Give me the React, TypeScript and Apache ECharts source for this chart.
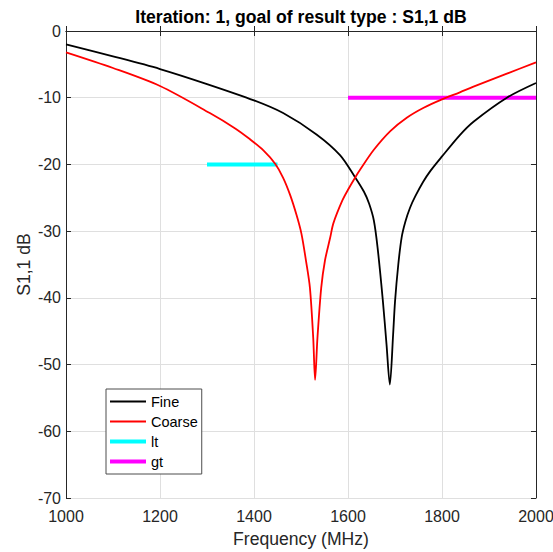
import React, { useEffect, useRef } from "react";
import * as echarts from "echarts";

const fineFreq = [1000, 1100, 1200, 1300, 1400, 1462, 1533, 1583, 1614, 1634, 1645, 1655, 1663, 1674, 1682, 1689, 1696, 1700, 1707, 1714, 1722, 1732, 1743, 1760, 1775, 1800, 1838, 1867, 1938, 2000];
const fineDb = [-2.0, -3.8, -5.7, -7.95, -10.4, -12.3, -15.5, -18.6, -21.8, -24.1, -25.9, -28.4, -32.5, -40.3, -47, -53, -45.5, -40.6, -35, -31.0, -28.6, -26.5, -24.8, -22.6, -21.0, -18.8, -15.6, -13.6, -10.0, -7.8];

const coarseFreq = [1000, 1100, 1200, 1306, 1360, 1391, 1420, 1445, 1462, 1477, 1491, 1501, 1511, 1519, 1526, 1530, 1535, 1543, 1551, 1562, 1569, 1588, 1600, 1614, 1627, 1655, 1690, 1725, 1761, 1800, 1838, 1867, 1938, 2000];
const coarseDb = [-3.2, -5.55, -8.25, -12.3, -14.6, -16.2, -17.9, -19.9, -22.0, -24.6, -27.7, -30.4, -34.6, -38.5, -46, -52.3, -46, -38.5, -34.4, -31, -28.8, -25.4, -23.8, -22.1, -20.65, -17.8, -15.0, -13.0, -11.5, -10.25, -9.2, -8.35, -6.4, -4.7];

const ltFreq = [1300, 1450];
const ltDb = [-20, -20];
const gtFreq = [1600, 2000];
const gtDb = [-10, -10];

const seriesNames = ["Fine", "Coarse", "lt", "gt"];
const xTicks = { min: 1000, max: 2000, interval: 200 };
const yTicks = { min: -70, max: 0, interval: 10 };

const zip = (a: number[], b: number[]) => a.map((v, i) => [v, b[i]]);

const FONT = "Liberation Sans, Arial, Helvetica, sans-serif";
const TXT = "#262626";

const thinIcon = "path://M0,0 M36,14 M0,6.1 L36,6.1 L36,7.9 L0,7.9 Z";
const thickIcon = "path://M0,0 M36,14 M0,5 L36,5 L36,9 L0,9 Z";

export default function App() {
  const ref = useRef<HTMLDivElement>(null);
  useEffect(() => {
    if (!ref.current) return;
    const chart = echarts.init(ref.current, undefined, { renderer: "svg" });
    const axisCommon = {
      axisLine: { show: true, lineStyle: { color: TXT, width: 1 } },
      axisTick: { show: true, inside: true, length: 5, lineStyle: { color: TXT } },
    };
    chart.setOption({
      animation: false,
      backgroundColor: "#ffffff",
      textStyle: { fontFamily: FONT },
      title: {
        text: "Iteration: 1, goal of result type : S1,1 dB",
        left: 301,
        top: 8,
        padding: 0,
        textAlign: "center",
        textStyle: { fontFamily: FONT, fontSize: 17.6, fontWeight: "bold", color: "#000" },
      },
      grid: {
        left: 66,
        right: 17,
        top: 31,
        bottom: 54,
        containLabel: false,
        outerBoundsMode: "none",
      },
      legend: {
        data: seriesNames.map((n, i) => ({ name: n, icon: i < 2 ? thinIcon : thickIcon })),
        orient: "vertical",
        left: 106,
        top: 389,
        padding: [5, 4, 5, 4],
        itemWidth: 36,
        itemHeight: 14,
        itemGap: 5,
        backgroundColor: "#ffffff",
        borderColor: "#4d4d4d",
        borderWidth: 1,
        borderRadius: 0,
        textStyle: { fontFamily: FONT, fontSize: 14.5, color: "#000" },
      },
      xAxis: [
        {
          type: "value",
          position: "bottom",
          min: xTicks.min,
          max: xTicks.max,
          interval: xTicks.interval,
          name: "Frequency (MHz)",
          nameLocation: "middle",
          nameGap: 32,
          nameTextStyle: { fontFamily: FONT, fontSize: 17.6, color: TXT },
          axisLabel: { fontFamily: FONT, fontSize: 16, color: TXT, margin: 10, formatter: (v: number) => String(v) },
          splitLine: { show: true, lineStyle: { color: "#dfdfdf", width: 1 } },
          ...axisCommon,
        },
        {
          type: "value",
          position: "top",
          min: xTicks.min,
          max: xTicks.max,
          interval: xTicks.interval,
          axisLabel: { show: false },
          splitLine: { show: false },
          ...axisCommon,
        },
      ],
      yAxis: [
        {
          type: "value",
          position: "left",
          min: yTicks.min,
          max: yTicks.max,
          interval: yTicks.interval,
          name: "S1,1 dB",
          nameLocation: "middle",
          nameGap: 33,
          nameMoveOverlap: false,
          nameTextStyle: { fontFamily: FONT, fontSize: 17.6, color: TXT },
          axisLabel: { fontFamily: FONT, fontSize: 16, color: TXT, margin: 5, formatter: (v: number) => String(v) },
          splitLine: { show: true, lineStyle: { color: "#dfdfdf", width: 1 } },
          ...axisCommon,
        },
        {
          type: "value",
          position: "right",
          min: yTicks.min,
          max: yTicks.max,
          interval: yTicks.interval,
          axisLabel: { show: false },
          splitLine: { show: false },
          ...axisCommon,
        },
      ],
      series: [
        {
          name: "Fine",
          type: "line",
          data: zip(fineFreq, fineDb),
          symbol: "none",
          smooth: 0.3,
          lineStyle: { color: "#000000", width: 1.8 },
          itemStyle: { color: "#000000" },
          z: 3,
        },
        {
          name: "Coarse",
          type: "line",
          data: zip(coarseFreq, coarseDb),
          symbol: "none",
          smooth: 0.3,
          lineStyle: { color: "#ff0000", width: 1.8 },
          itemStyle: { color: "#ff0000" },
          z: 3,
        },
        {
          name: "lt",
          type: "line",
          data: zip(ltFreq, ltDb),
          symbol: "none",
          lineStyle: { color: "#00ffff", width: 4 },
          itemStyle: { color: "#00ffff" },
          z: 2,
        },
        {
          name: "gt",
          type: "line",
          data: zip(gtFreq, gtDb),
          symbol: "none",
          lineStyle: { color: "#ff00ff", width: 4 },
          itemStyle: { color: "#ff00ff" },
          z: 2,
        },
      ],
    });
    return () => chart.dispose();
  }, []);
  return (
    <div
      ref={ref}
      style={{ position: "absolute", left: 0, top: 0, width: 553, height: 552 }}
    />
  );
}
